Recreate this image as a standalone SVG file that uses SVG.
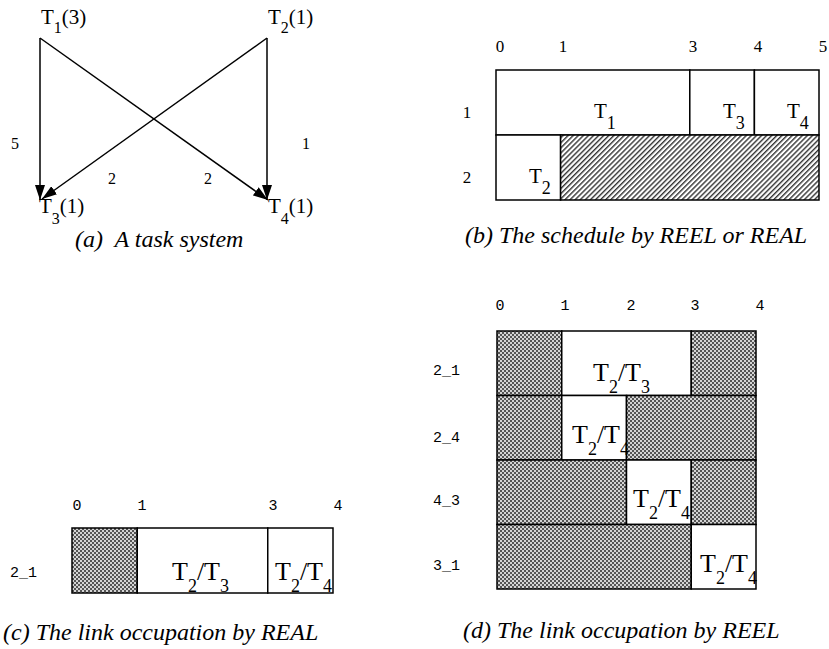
<svg xmlns="http://www.w3.org/2000/svg" width="829" height="649" viewBox="0 0 829 649">
<style>
.t{font-family:"Liberation Serif","Times New Roman",serif;fill:#000}
.cap{font-family:"Liberation Serif","Times New Roman",serif;font-style:italic;font-size:24px;fill:#000}
.m{font-family:"Liberation Mono","Courier New",monospace;font-size:15px;fill:#000}
.box{fill:#fff;stroke:#000;stroke-width:1.5}
.hd{fill:url(#diag);stroke:#000;stroke-width:1.5}
.hx{fill:url(#cross);stroke:#000;stroke-width:1.5}
.e{stroke:#000;stroke-width:1.5;fill:none;marker-end:url(#ah)}
</style>
<defs>
<marker id="ah" markerUnits="userSpaceOnUse" markerWidth="16" markerHeight="10" refX="15" refY="5" orient="auto">
<path d="M0,0 L15,5 L0,10 z" fill="#000"/>
</marker>
<pattern id="diag" width="3.6" height="10" patternUnits="userSpaceOnUse" patternTransform="rotate(45)">
<rect width="3.6" height="10" fill="#fff"/>
<rect width="1.4" height="10" fill="#333"/>
</pattern>
<pattern id="cross" width="4" height="4" patternUnits="userSpaceOnUse">
<rect width="4" height="4" fill="#555"/>
<circle cx="1" cy="1" r="1" fill="#fff"/>
<circle cx="3" cy="3" r="1" fill="#fff"/>
</pattern>
</defs>

<!-- (a) task system -->
<g id="edges">
<line class="e" x1="40" y1="38" x2="40" y2="200"/>
<line class="e" x1="40" y1="38" x2="268" y2="200"/>
<line class="e" x1="267" y1="38" x2="42" y2="199"/>
<line class="e" x1="267" y1="38" x2="267" y2="200"/>
<text class="t" font-size="16" x="15" y="149" text-anchor="middle">5</text>
<text class="t" font-size="16" x="306" y="149" text-anchor="middle">1</text>
<text class="t" font-size="16" x="112" y="184" text-anchor="middle">2</text>
<text class="t" font-size="16" x="208" y="184" text-anchor="middle">2</text>
</g>
<g id="T1"><text class="t" font-size="21" x="41" y="24">T<tspan font-size="16" dy="9">1</tspan><tspan dy="-9">(3)</tspan></text></g>
<g id="T2"><text class="t" font-size="21" x="268" y="24">T<tspan font-size="16" dy="9">2</tspan><tspan dy="-9">(1)</tspan></text></g>
<g id="T3"><text class="t" font-size="21" x="39" y="213">T<tspan font-size="16" dy="11">3</tspan><tspan dy="-11">(1)</tspan></text></g>
<g id="T4"><text class="t" font-size="21" x="268" y="213">T<tspan font-size="16" dy="11">4</tspan><tspan dy="-11">(1)</tspan></text></g>
<text class="cap" x="75" y="247">(a) <tspan dx="6">A task system</tspan></text>

<!-- (b) schedule -->
<g id="schedule">
<g class="t" font-size="17" text-anchor="middle">
<text x="500" y="52">0</text><text x="563" y="52">1</text><text x="693" y="52">3</text><text x="758" y="52">4</text><text x="823" y="52">5</text>
<text x="467" y="118">1</text><text x="467" y="183">2</text>
</g>
<rect class="box" x="496" y="70" width="193.8" height="65"/>
<rect class="box" x="689.8" y="70" width="64.6" height="65"/>
<rect class="box" x="754.4" y="70" width="64.6" height="65"/>
<rect class="box" x="496" y="135" width="64.6" height="65"/>
<rect class="hd" x="560.6" y="135" width="258.4" height="65"/>
<text class="t" font-size="21" x="594" y="118">T<tspan font-size="18" dy="11">1</tspan></text>
<text class="t" font-size="21" x="723" y="118">T<tspan font-size="18" dy="11">3</tspan></text>
<text class="t" font-size="21" x="787" y="118">T<tspan font-size="18" dy="11">4</tspan></text>
<text class="t" font-size="21" x="529" y="183">T<tspan font-size="18" dy="11">2</tspan></text>
</g>
<text class="cap" x="465" y="243">(b) The schedule by REEL or REAL</text>

<!-- (c) link occupation by REAL -->
<g id="real">
<g class="m" text-anchor="middle">
<text x="77" y="510">0</text><text x="142" y="510">1</text><text x="273" y="510">3</text><text x="338" y="510">4</text>
</g>
<text class="m" x="10" y="577">2_1</text>
<rect class="hx" x="72" y="528" width="65.25" height="65"/>
<rect class="box" x="137.25" y="528" width="130.5" height="65"/>
<rect class="box" x="267.75" y="528" width="65.25" height="65"/>
<text class="t" font-size="26" x="172" y="580">T<tspan font-size="18" dy="12">2</tspan><tspan dy="-12">/T</tspan><tspan font-size="18" dy="12">3</tspan></text>
<text class="t" font-size="26" x="275" y="580">T<tspan font-size="18" dy="12">2</tspan><tspan dy="-12">/T</tspan><tspan font-size="18" dy="12">4</tspan></text>
</g>
<text class="cap" x="3" y="640">(c) The link occupation by REAL</text>

<!-- (d) link occupation by REEL -->
<g id="reel">
<g class="m" text-anchor="middle">
<text x="500" y="310">0</text><text x="565" y="310">1</text><text x="631" y="310">2</text><text x="695" y="310">3</text><text x="760" y="310">4</text>
</g>
<g class="m">
<text x="433" y="375">2_1</text><text x="433" y="442">2_4</text><text x="433" y="505">4_3</text><text x="433" y="570">3_1</text>
</g>
<rect class="hx" x="497" y="331" width="64.75" height="64.5"/>
<rect class="box" x="561.75" y="331" width="129.5" height="64.5"/>
<rect class="hx" x="691.25" y="331" width="64.75" height="64.5"/>
<rect class="hx" x="497" y="395.5" width="64.75" height="64.5"/>
<rect class="box" x="561.75" y="395.5" width="64.75" height="64.5"/>
<rect class="hx" x="626.5" y="395.5" width="129.5" height="64.5"/>
<rect class="hx" x="497" y="460" width="129.5" height="64.5"/>
<rect class="box" x="626.5" y="460" width="64.75" height="64.5"/>
<rect class="hx" x="691.25" y="460" width="64.75" height="64.5"/>
<rect class="hx" x="497" y="524.5" width="194.25" height="64.5"/>
<rect class="box" x="691.25" y="524.5" width="64.75" height="64.5"/>
<text class="t" font-size="26" x="593" y="381">T<tspan font-size="18" dy="12">2</tspan><tspan dy="-12">/T</tspan><tspan font-size="18" dy="12">3</tspan></text>
<text class="t" font-size="26" x="572" y="443">T<tspan font-size="18" dy="12">2</tspan><tspan dy="-12">/T</tspan><tspan font-size="18" dy="12">4</tspan></text>
<text class="t" font-size="26" x="633" y="507">T<tspan font-size="18" dy="12">2</tspan><tspan dy="-12">/T</tspan><tspan font-size="18" dy="12">4</tspan></text>
<text class="t" font-size="26" x="700" y="572">T<tspan font-size="18" dy="12">2</tspan><tspan dy="-12">/T</tspan><tspan font-size="18" dy="12">4</tspan></text>
</g>
<text class="cap" x="463" y="638">(d) The link occupation by REEL</text>
</svg>
